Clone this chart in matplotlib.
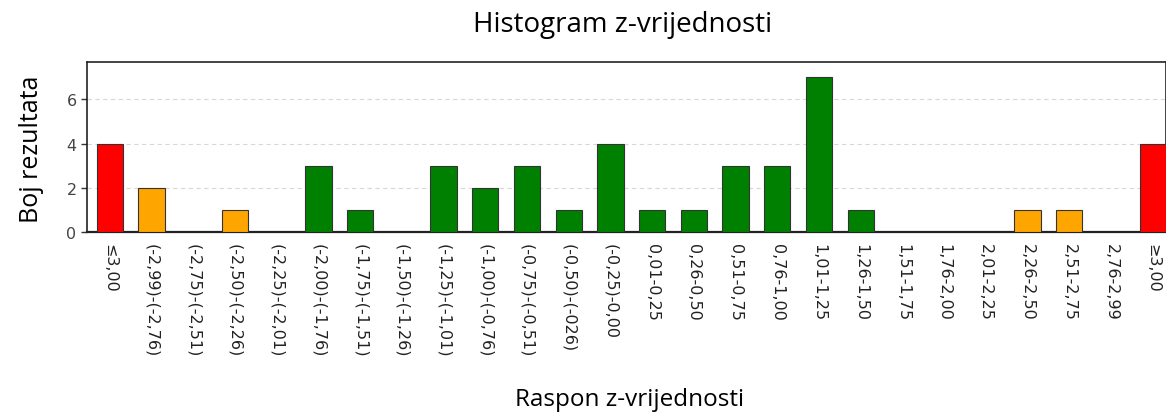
import numpy as np
import matplotlib.pyplot as plt

# z-score ranges and number of results per range
ranges = ["≤3,00", "(-2,99)-(-2,76)", "(-2,75)-(-2,51)", "(-2,50)-(-2,26)",
          "(-2,25)-(-2,01)", "(-2,00)-(-1,76)", "(-1,75)-(-1,51)", "(-1,50)-(-1,26)",
          "(-1,25)-(-1,01)", "(-1,00)-(-0,76)", "(-0,75)-(-0,51)", "(-0,50)-(-026)",
          "(-0,25)-0,00", "0,01-0,25", "0,26-0,50", "0,51-0,75", "0,76-1,00",
          "1,01-1,25", "1,26-1,50", "1,51-1,75", "1,76-2,00", "2,01-2,25",
          "2,26-2,50", "2,51-2,75", "2,76-2,99", "≥3,00"]
counts = [4, 2, 0, 1, 0, 3, 1, 0, 3, 2, 3, 1, 4, 1, 1, 3, 3, 7, 1, 0, 0, 0, 1, 1, 0, 4]
zone = ["red", "orange", "orange", "orange"] + ["green"] * 18 + ["orange", "orange", "orange", "red"]

palette = {"red": "#ff0000", "orange": "#ffa500", "green": "#008000"}
colors = [palette[z] for z in zone]

fig = plt.figure(figsize=(11.66, 4.14), dpi=100)
ax = fig.add_axes([0.0746, 0.437, 0.9254, 0.411])

x = np.arange(len(ranges))
# skip empty bins so no flat outline is drawn on the baseline
nz = [i for i in x if counts[i] > 0]
ax.bar(x[nz], [counts[i] for i in nz], width=0.63, color=[colors[i] for i in nz],
       edgecolor="#333333", linewidth=0.8, zorder=3)

ax.set_xlim(-0.55, 25.32)
ax.set_ylim(0, 7.7)
ax.set_yticks([0, 2, 4, 6])
ax.yaxis.grid(True, linestyle=(0, (4, 3)), color="#d8d8d8", linewidth=0.8, zorder=0)
ax.set_xticks(x)
ax.set_xticklabels(ranges, rotation=270, va="top", ha="center", fontsize=11.5, color="#222222")
ax.tick_params(axis="x", length=0, pad=8)
ax.tick_params(axis="y", length=4, width=1, labelsize=11.5, color="#333333", labelcolor="#444444")

for side in ["top", "left", "right"]:
    ax.spines[side].set_linewidth(1.2)
    ax.spines[side].set_color("#222222")
ax.spines["bottom"].set_linewidth(1.6)
ax.spines["bottom"].set_color("#222222")

fig.text(0.534, 0.94, "Histogram z-vrijednosti", ha="center", va="center",
         fontsize=20, family="Open Sans")
fig.text(0.54, 0.035, "Raspon z-vrijednosti", ha="center", va="center",
         fontsize=17.5, family="Open Sans")
fig.text(0.027, 0.64, "Boj rezultata", ha="center", va="center", rotation=90,
         fontsize=18, family="Open Sans")

fig.savefig("out.png", dpi=100)
